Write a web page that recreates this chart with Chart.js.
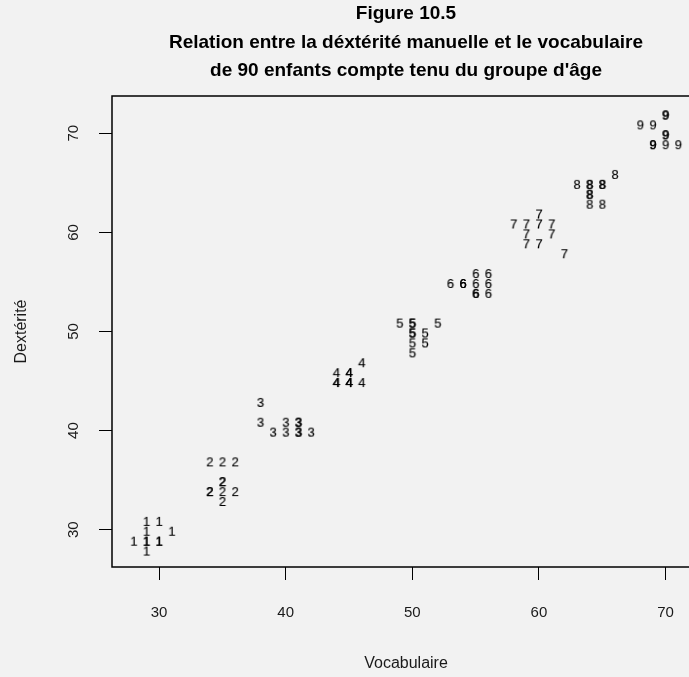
<!DOCTYPE html>
<html>
<head>
<meta charset="utf-8">
<script src="https://cdn.jsdelivr.net/npm/chart.js@4/dist/chart.umd.min.js"></script>
<style>
  html, body { margin: 0; padding: 0; background: #f2f2f2; overflow: hidden; }
  #wrap { width: 812px; height: 677px; }
</style>
</head>
<body>
<div id="wrap"><canvas id="c" width="812" height="677"></canvas></div>
<script>
// Age groups (digit used as the plotting symbol)
const groups = ['1', '2', '3', '4', '5', '6', '7', '8', '9'];

// Vocabulaire (x) and Dextérité (y) per age group
const vocab1 = [29, 30, 29, 28, 29, 29, 30, 30, 29, 31];
const dext1  = [31, 31, 30, 29, 29, 29, 29, 29, 28, 30];
const vocab2 = [34, 35, 36, 35, 35, 34, 34, 35, 36, 35];
const dext2  = [37, 37, 37, 35, 35, 34, 34, 34, 34, 33];
const vocab3 = [38, 38, 40, 41, 41, 39, 40, 41, 41, 42];
const dext3  = [43, 41, 41, 41, 41, 40, 40, 40, 40, 40];
const vocab4 = [46, 44, 45, 45, 44, 44, 45, 45, 45, 46];
const dext4  = [47, 46, 46, 46, 45, 45, 45, 45, 45, 45];
const vocab5 = [49, 50, 50, 52, 50, 50, 51, 50, 51, 50];
const dext5  = [51, 51, 51, 51, 50, 50, 50, 49, 49, 48];
const vocab6 = [53, 54, 54, 55, 56, 55, 56, 55, 55, 56];
const dext6  = [55, 55, 55, 55, 55, 56, 56, 54, 54, 54];
const vocab7 = [60, 58, 59, 60, 61, 59, 61, 59, 60, 62];
const dext7  = [62, 61, 61, 61, 61, 60, 60, 59, 59, 58];
const vocab8 = [66, 63, 64, 64, 65, 65, 64, 64, 64, 65];
const dext8  = [66, 65, 65, 65, 65, 65, 64, 64, 63, 63];
const vocab9 = [70, 70, 68, 69, 70, 70, 69, 69, 70, 71];
const dext9  = [72, 72, 71, 71, 70, 70, 69, 69, 69, 69];

const xTicks = [30, 40, 50, 60, 70];
const yTicks = [30, 40, 50, 60, 70];

const vocabs = [vocab1, vocab2, vocab3, vocab4, vocab5, vocab6, vocab7, vocab8, vocab9];
const dexts  = [dext1, dext2, dext3, dext4, dext5, dext6, dext7, dext8, dext9];

function digitSymbol(d) {
  const cv = document.createElement('canvas');
  cv.width = 14; cv.height = 20;
  const g = cv.getContext('2d');
  g.font = '13px "Liberation Sans", Arial, sans-serif';
  g.fillStyle = '#000';
  g.strokeStyle = '#000';
  g.lineWidth = 0.15;
  g.textAlign = 'center';
  g.textBaseline = 'alphabetic';
  g.fillText(d, 7, 15.6);
  g.strokeText(d, 7, 15.6);
  return cv;
}

const datasets = groups.map((g, i) => ({
  label: g,
  data: vocabs[i].map((v, j) => ({ x: v, y: dexts[i][j] })),
  pointStyle: digitSymbol(g),
  pointRadius: 5,
  pointHoverRadius: 5
}));

const framePlugin = {
  id: 'frame',
  afterDatasetsDraw(chart) {
    const a = chart.chartArea, ctx = chart.ctx;
    ctx.save();
    ctx.strokeStyle = '#000';
    ctx.lineWidth = 1.5;
    ctx.strokeRect(a.left, a.top, a.right - a.left, a.bottom - a.top);
    ctx.restore();
  }
};

const tickFont = { family: '"Liberation Sans", Arial, sans-serif', size: 15 };
const axisTitleFont = { family: '"Liberation Sans", Arial, sans-serif', size: 16 };

new Chart(document.getElementById('c'), {
  type: 'scatter',
  data: { datasets },
  plugins: [framePlugin],
  options: {
    responsive: false,
    animation: false,
    devicePixelRatio: 1,
    layout: { padding: { left: 0, right: 112, top: 0, bottom: 0 } },
    plugins: {
      legend: { display: false },
      tooltip: { enabled: false },
      title: {
        display: true,
        fullSize: false,
        text: ['Figure 10.5', 'Relation entre la déxtérité manuelle et le vocabulaire', "de 90 enfants compte tenu du groupe d'âge"],
        color: '#000',
        font: { family: '"Liberation Sans", Arial, sans-serif', size: 19, weight: 'bold', lineHeight: '28.5px' },
        padding: { top: 0, bottom: 10.5 }
      }
    },
    scales: {
      x: {
        type: 'linear',
        min: 26.28, max: 72.72,
        afterBuildTicks(s) { s.ticks = xTicks.map(v => ({ value: v })); },
        afterFit(s) { s.height = 110; },
        border: { display: false },
        grid: { drawOnChartArea: false, drawTicks: true, tickLength: 13, color: '#000', tickColor: '#000', lineWidth: 1 },
        ticks: { color: '#1a1a1a', font: tickFont, padding: 24, maxRotation: 0 },
        title: { display: true, text: 'Vocabulaire', color: '#1a1a1a', font: axisTitleFont, padding: { top: 0, bottom: 3.5 } }
      },
      y: {
        type: 'linear',
        min: 26.24, max: 73.76,
        afterBuildTicks(s) { s.ticks = yTicks.map(v => ({ value: v })); },
        afterFit(s) { s.width = 112; },
        border: { display: false },
        grid: { drawOnChartArea: false, drawTicks: true, tickLength: 13, color: '#000', tickColor: '#000', lineWidth: 1 },
        ticks: { color: '#1a1a1a', font: tickFont, padding: 16.6, minRotation: 90, maxRotation: 90, crossAlign: 'center' },
        title: { display: true, text: 'Dextérité', color: '#1a1a1a', font: axisTitleFont, padding: { top: 12, bottom: 0 } }
      }
    }
  }
});
</script>
</body>
</html>
